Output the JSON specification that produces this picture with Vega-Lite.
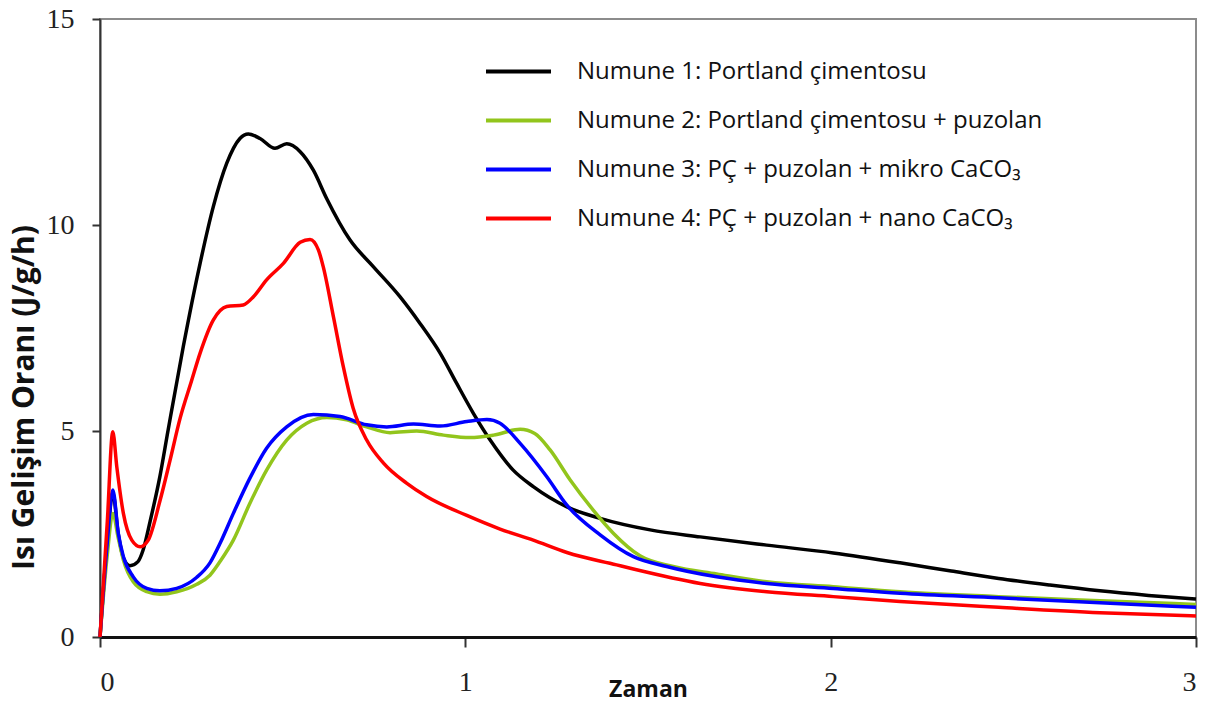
{
  "$schema": "https://vega.github.io/schema/vega-lite/v6.json",
  "width": 1096,
  "height": 618,
  "autosize": "none",
  "padding": {"left": 100, "top": 19, "right": 17, "bottom": 65},
  "background": "white",
  "config": {
    "view": {"stroke": "#8c8c8c", "strokeWidth": 2},
    "axis": {"grid": false}
  },
  "datasets": {
    "n1": [
      {"x":0,"y":0},{"x":0.02,"y":2.3},{"x":0.035,"y":3.5},{"x":0.05,"y":2.5},{"x":0.065,"y":1.9},{"x":0.082,"y":1.73},{"x":0.104,"y":1.83},{"x":0.118,"y":2.11},{"x":0.137,"y":2.8},{"x":0.164,"y":3.9},{"x":0.186,"y":5.0},{"x":0.228,"y":7.05},{"x":0.274,"y":9.07},{"x":0.31,"y":10.44},{"x":0.347,"y":11.5},{"x":0.383,"y":12.1},{"x":0.406,"y":12.21},{"x":0.438,"y":12.1},{"x":0.479,"y":11.86},{"x":0.511,"y":11.97},{"x":0.548,"y":11.78},{"x":0.584,"y":11.33},{"x":0.62,"y":10.65},{"x":0.684,"y":9.64},{"x":0.748,"y":8.99},{"x":0.821,"y":8.26},{"x":0.876,"y":7.61},{"x":0.931,"y":6.89},{"x":0.976,"y":6.16},{"x":1.022,"y":5.43},{"x":1.068,"y":4.78},{"x":1.131,"y":4.05},{"x":1.186,"y":3.65},{"x":1.278,"y":3.16},{"x":1.369,"y":2.88},{"x":1.506,"y":2.6},{"x":1.643,"y":2.43},{"x":1.825,"y":2.23},{"x":2.007,"y":2.04},{"x":2.19,"y":1.8},{"x":2.33,"y":1.6},{"x":2.46,"y":1.42},{"x":2.6,"y":1.26},{"x":2.737,"y":1.12},{"x":2.87,"y":1.01},{"x":3.0,"y":0.92}
    ],
    "n2": [
      {"x":0,"y":0},{"x":0.02,"y":2.0},{"x":0.035,"y":3.0},{"x":0.05,"y":2.4},{"x":0.064,"y":1.87},{"x":0.091,"y":1.34},{"x":0.128,"y":1.1},{"x":0.164,"y":1.04},{"x":0.21,"y":1.1},{"x":0.265,"y":1.28},{"x":0.301,"y":1.5},{"x":0.33,"y":1.85},{"x":0.365,"y":2.35},{"x":0.41,"y":3.24},{"x":0.456,"y":4.05},{"x":0.511,"y":4.78},{"x":0.566,"y":5.19},{"x":0.621,"y":5.33},{"x":0.675,"y":5.27},{"x":0.73,"y":5.1},{"x":0.794,"y":4.96},{"x":0.867,"y":5.0},{"x":0.94,"y":4.9},{"x":1.013,"y":4.84},{"x":1.077,"y":4.9},{"x":1.15,"y":5.04},{"x":1.19,"y":4.94},{"x":1.232,"y":4.54},{"x":1.287,"y":3.81},{"x":1.35,"y":3.08},{"x":1.405,"y":2.52},{"x":1.478,"y":1.97},{"x":1.569,"y":1.71},{"x":1.688,"y":1.53},{"x":1.825,"y":1.34},{"x":2.007,"y":1.22},{"x":2.19,"y":1.1},{"x":2.46,"y":0.98},{"x":2.737,"y":0.88},{"x":3.0,"y":0.79}
    ],
    "n3": [
      {"x":0,"y":0},{"x":0.02,"y":2.3},{"x":0.035,"y":3.57},{"x":0.05,"y":2.52},{"x":0.064,"y":1.95},{"x":0.091,"y":1.46},{"x":0.128,"y":1.18},{"x":0.164,"y":1.12},{"x":0.21,"y":1.18},{"x":0.265,"y":1.45},{"x":0.301,"y":1.8},{"x":0.33,"y":2.3},{"x":0.365,"y":3.0},{"x":0.41,"y":3.85},{"x":0.456,"y":4.58},{"x":0.511,"y":5.1},{"x":0.584,"y":5.4},{"x":0.657,"y":5.35},{"x":0.73,"y":5.15},{"x":0.785,"y":5.1},{"x":0.858,"y":5.17},{"x":0.931,"y":5.12},{"x":1.004,"y":5.23},{"x":1.059,"y":5.28},{"x":1.095,"y":5.19},{"x":1.15,"y":4.7},{"x":1.223,"y":3.89},{"x":1.278,"y":3.2},{"x":1.369,"y":2.48},{"x":1.46,"y":1.95},{"x":1.551,"y":1.71},{"x":1.688,"y":1.46},{"x":1.825,"y":1.3},{"x":2.007,"y":1.18},{"x":2.19,"y":1.06},{"x":2.46,"y":0.95},{"x":2.737,"y":0.83},{"x":3.0,"y":0.72}
    ],
    "n4": [
      {"x":0,"y":0},{"x":0.02,"y":2.8},{"x":0.035,"y":4.98},{"x":0.046,"y":4.13},{"x":0.064,"y":3.0},{"x":0.087,"y":2.35},{"x":0.11,"y":2.19},{"x":0.132,"y":2.35},{"x":0.164,"y":3.3},{"x":0.192,"y":4.3},{"x":0.219,"y":5.3},{"x":0.25,"y":6.2},{"x":0.274,"y":6.89},{"x":0.31,"y":7.69},{"x":0.347,"y":8.02},{"x":0.392,"y":8.06},{"x":0.42,"y":8.26},{"x":0.456,"y":8.67},{"x":0.502,"y":9.07},{"x":0.548,"y":9.58},{"x":0.575,"y":9.65},{"x":0.598,"y":9.39},{"x":0.611,"y":8.99},{"x":0.639,"y":7.77},{"x":0.666,"y":6.56},{"x":0.693,"y":5.55},{"x":0.73,"y":4.78},{"x":0.776,"y":4.22},{"x":0.84,"y":3.73},{"x":0.894,"y":3.41},{"x":1.004,"y":2.95},{"x":1.095,"y":2.62},{"x":1.186,"y":2.35},{"x":1.278,"y":2.05},{"x":1.414,"y":1.75},{"x":1.46,"y":1.65},{"x":1.643,"y":1.3},{"x":1.825,"y":1.1},{"x":2.007,"y":0.98},{"x":2.19,"y":0.86},{"x":2.46,"y":0.72},{"x":2.737,"y":0.59},{"x":3.0,"y":0.51}
    ]
  },
  "layer": [
    {"data": {"name": "n1"}, "transform": [{"calculate": "'Numune 1: Portland çimentosu'", "as": "s"}], "mark": {"type": "line", "interpolate": "monotone", "strokeWidth": 3.5}, "encoding": {"x": {"field": "x", "type": "quantitative"}, "y": {"field": "y", "type": "quantitative"}, "color": {"field": "s", "type": "nominal"}}},
    {"data": {"name": "n2"}, "transform": [{"calculate": "'Numune 2: Portland çimentosu + puzolan'", "as": "s"}], "mark": {"type": "line", "interpolate": "monotone", "strokeWidth": 3.5}, "encoding": {"x": {"field": "x", "type": "quantitative"}, "y": {"field": "y", "type": "quantitative"}, "color": {"field": "s", "type": "nominal"}}},
    {"data": {"name": "n3"}, "transform": [{"calculate": "'Numune 3: PÇ + puzolan + mikro CaCO₃'", "as": "s"}], "mark": {"type": "line", "interpolate": "monotone", "strokeWidth": 3.5}, "encoding": {"x": {"field": "x", "type": "quantitative"}, "y": {"field": "y", "type": "quantitative"}, "color": {"field": "s", "type": "nominal"}}},
    {"data": {"name": "n4"}, "transform": [{"calculate": "'Numune 4: PÇ + puzolan + nano CaCO₃'", "as": "s"}], "mark": {"type": "line", "interpolate": "monotone", "strokeWidth": 3.5}, "encoding": {"x": {"field": "x", "type": "quantitative"}, "y": {"field": "y", "type": "quantitative"}, "color": {"field": "s", "type": "nominal"}}}
  ],
  "encoding": {
    "x": {"field": "x", "type": "quantitative", "scale": {"domain": [0, 3], "nice": false},
      "axis": {"title": "Zaman", "values": [0, 1, 2, 3], "format": "d", "labelFont": "Liberation Serif", "labelFontSize": 28, "labelColor": "#222", "labelPadding": 21, "tickSize": 10, "tickColor": "#333", "tickWidth": 2, "domainColor": "#111", "domainWidth": 3, "titleFont": "Open Sans", "titleFontSize": 23, "titleFontWeight": "bold", "titleColor": "#111", "titleY": 52, "titleBaseline": "middle"}},
    "y": {"field": "y", "type": "quantitative", "scale": {"domain": [0, 15], "nice": false},
      "axis": {"title": "Isı Gelişim Oranı (J/g/h)", "values": [0, 5, 10, 15], "labelFont": "Liberation Serif", "labelFontSize": 28, "labelColor": "#222", "labelPadding": 18, "tickSize": 8, "tickColor": "#333", "tickWidth": 2, "domainColor": "#333", "domainWidth": 2, "titleFont": "Open Sans", "titleFontSize": 30, "titleFontWeight": "bold", "titleColor": "#111", "titleX": -76, "titleY": 378, "titleBaseline": "middle", "titleAngle": -90}},
    "color": {"field": "s", "type": "nominal",
      "scale": {"domain": ["Numune 1: Portland çimentosu", "Numune 2: Portland çimentosu + puzolan", "Numune 3: PÇ + puzolan + mikro CaCO₃", "Numune 4: PÇ + puzolan + nano CaCO₃"], "range": ["#000000", "#92c51c", "#0000ff", "#ff0000"]},
      "legend": {"title": null, "orient": "none", "legendX": 384, "legendY": 18, "symbolType": "stroke", "symbolSize": 4225, "symbolStrokeWidth": 4, "labelFont": "Open Sans", "labelFontSize": 24, "labelColor": "#111", "labelOffset": 24, "rowPadding": 2, "labelLimit": 700}}
  }
}
